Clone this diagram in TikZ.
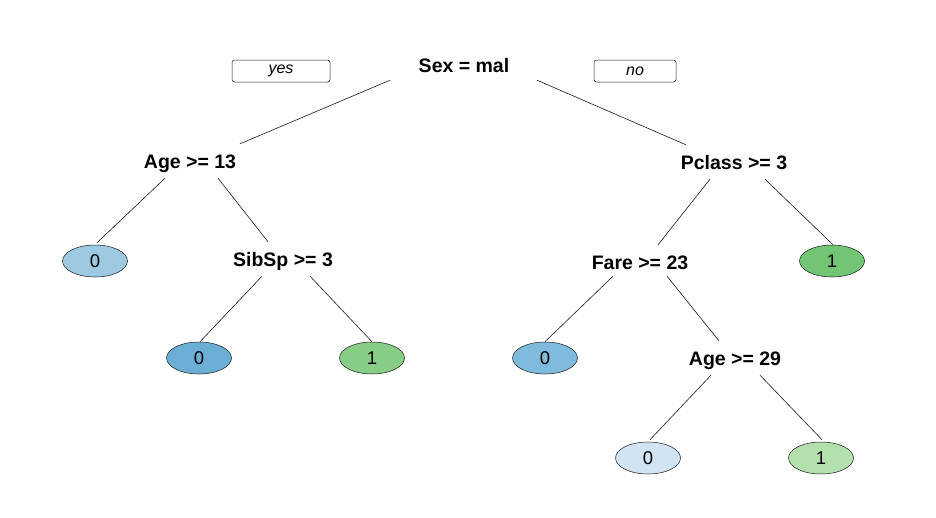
\documentclass[tikz,border=0pt]{standalone}
\usepackage{fontspec}
\setmainfont{Liberation Sans}
\usetikzlibrary{positioning,shapes.geometric}

\definecolor{blueA}{HTML}{9ECAE1}
\definecolor{blueB}{HTML}{6BAED6}
\definecolor{blueC}{HTML}{80BADC}
\definecolor{blueD}{HTML}{D2E3F3}
\definecolor{greenA}{HTML}{74C476}
\definecolor{greenB}{HTML}{88CD86}
\definecolor{greenC}{HTML}{B4E0AE}

\begin{document}
\begin{tikzpicture}[on grid, node distance=3cm,
    split/.style={font=\fontsize{19.5}{22}\selectfont\bfseries, minimum height=34pt, text height=14pt, text depth=0pt, inner sep=0pt},
    leaf/.style={ellipse, draw=black!90, line width=0.5pt, minimum width=65pt, minimum height=32pt, text height=13pt, text depth=0pt, inner sep=0pt, font=\fontsize{18.5}{20}\selectfont},
    tag/.style={draw=black!90, line width=0.5pt, rounded corners=2.5pt, minimum height=22pt, inner sep=0pt, font=\fontsize{16}{18}\selectfont\itshape},
    branch/.style={draw=black!90, line width=0.6pt}]
      \useasboundingbox (0,0) rectangle (936pt,-517pt);
      \node (sex) [split] at (464pt,-65pt) {Sex = mal};
      \node (yes) [tag, minimum width=98pt, left=183pt of sex, yshift=-6pt] {yes};
      \node (no) [tag, minimum width=82pt, right=171pt of sex, yshift=-6pt] {no};
      \node (age) [split, below left=96pt and 274pt of sex] {Age >= 13};
      \node (pclass) [split, below right=97pt and 270pt of sex] {Pclass >= 3};
      \node (l1) [leaf, fill=blueA, below left=100pt and 95pt of age] {0};
      \node (sibsp) [split, below right=98pt and 93pt of age] {SibSp >= 3};
      \node (l2) [leaf, fill=blueB, below left=99pt and 84pt of sibsp] {0};
      \node (l3) [leaf, fill=greenB, below right=99pt and 89pt of sibsp] {1};
      \node (fare) [split, below left=100pt and 94pt of pclass] {Fare >= 23};
      \node (l4) [leaf, fill=greenA, below right=99pt and 98pt of pclass] {1};
      \node (l5) [leaf, fill=blueC, below left=96pt and 95pt of fare] {0};
      \node (age2) [split, below right=96pt and 95pt of fare] {Age >= 29};
      \node (l6) [leaf, fill=blueD, below left=100pt and 87pt of age2] {0};
      \node (l7) [leaf, fill=greenC, below right=100pt and 86pt of age2] {1};
      \path[branch]
        ([xshift=-74pt,yshift=2pt]sex.south) edge ([xshift=50pt]age.north)
        ([xshift=73pt,yshift=2pt]sex.south) edge ([xshift=-48pt]pclass.north)
        ([xshift=-25pt]age.south) edge ([xshift=2pt,yshift=2pt]l1.north)
        ([xshift=28pt]age.south) edge ([xshift=-15pt]sibsp.north)
        ([xshift=-21pt]sibsp.south) edge ([xshift=1pt]l2.north)
        ([xshift=27pt]sibsp.south) edge (l3.north)
        ([xshift=-24pt]pclass.south) edge ([xshift=18pt]fare.north)
        ([xshift=31pt]pclass.south) edge ([xshift=1pt]l4.north)
        ([xshift=-27pt,yshift=3pt]fare.south) edge (l5.north)
        ([xshift=27pt,yshift=3pt]fare.south) edge ([xshift=-16pt]age2.north)
        ([xshift=-24pt]age2.south) edge ([xshift=2pt,yshift=2pt]l6.north)
        ([xshift=25pt]age2.south) edge ([xshift=1pt,yshift=2pt]l7.north);
    \end{tikzpicture}
\end{document}
